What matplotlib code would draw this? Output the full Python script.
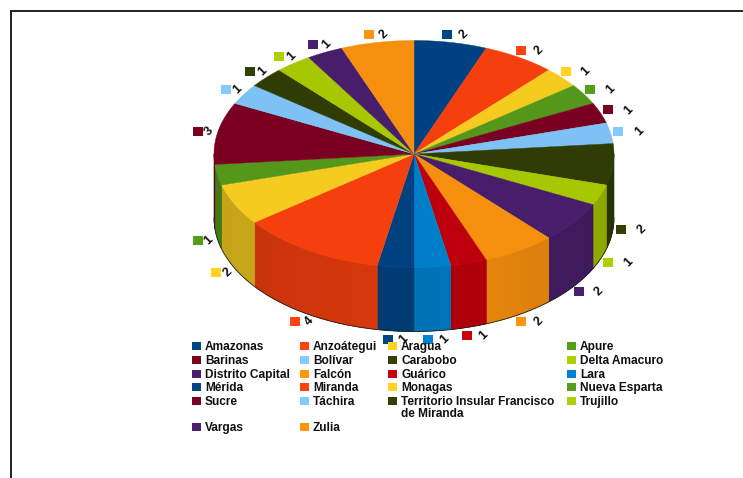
"""Gráfico de torta 3D por estado (Venezuela)."""

import numpy as np
import matplotlib
matplotlib.use("Agg")
import matplotlib.pyplot as plt
from matplotlib.colors import to_rgb
from matplotlib.patches import Polygon, Rectangle

estados = [
    "Amazonas", "Anzoátegui", "Aragua", "Apure", "Barinas", "Bolívar",
    "Carabobo", "Delta Amacuro", "Distrito Capital", "Falcón", "Guárico",
    "Lara", "Mérida", "Miranda", "Monagas", "Nueva Esparta", "Sucre",
    "Táchira", "Territorio Insular Francisco\nde Miranda", "Trujillo",
    "Vargas", "Zulia",
]
valores = [2, 2, 1, 1, 1, 1, 2, 1, 2, 2, 1, 1, 1, 4, 2, 1, 3, 1, 1, 1, 1, 2]
colores = [
    "#004586", "#ff420e", "#ffd320", "#579d1c", "#7e0021", "#83caff",
    "#314004", "#aecf00", "#4b1f6f", "#ff950e", "#c5000b", "#0084d1",
    "#004586", "#ff420e", "#ffd320", "#579d1c", "#7e0021", "#83caff",
    "#314004", "#aecf00", "#4b1f6f", "#ff950e",
]

# geometria en pixeles de la imagen
CX, CY, RX, RY, DEPTH = 414, 154, 200, 113.5, 64
LEG_X = [192, 300, 388, 567]
LEG_Y = [346, 360, 374, 387, 401, 427]


def punto(ang, rx=RX, ry=RY, dy=0):
    a = np.radians(ang)
    return CX + rx * np.sin(a), CY + dy - ry * np.cos(a)


def tono(c, f):
    return tuple(min(1, v * f) for v in to_rgb(c))


def brillo(ang):
    return 0.90 - 0.13 * abs(np.sin(np.radians((ang - 160) / 1.25)))


fig = plt.figure(figsize=(7.43, 4.78), dpi=100)
ax = fig.add_axes([0, 0, 1, 1])
ax.set_xlim(0, 743)
ax.set_ylim(478, 0)
ax.axis("off")

# marco: solo arriba e izquierda
ax.plot([743, 10.5, 10.5], [10.5, 10.5, 478], color="#222222", lw=1.4, solid_joinstyle="miter")

bordes = np.cumsum([0] + valores) * 360 / sum(valores)

# pared lateral (solo la mitad frontal)
for i, col in enumerate(colores):
    a0, a1 = max(bordes[i], 90), min(bordes[i + 1], 270)
    if a1 <= a0:
        continue
    aa = np.linspace(a0, a1, 20)
    base = tono(col, brillo((a0 + a1) / 2))
    ax.add_patch(Polygon([punto(a) for a in aa] + [punto(a, dy=DEPTH) for a in aa[::-1]],
                         closed=True, fc=base, ec=base, lw=0.4))
    n = max(2, int((a1 - a0) / 3) + 1)
    t = np.linspace(a0, a1, n)
    for j in range(n - 1):
        tr = np.linspace(t[j], t[j + 1], 4)
        pts = [punto(a) for a in tr] + [punto(a, dy=DEPTH) for a in tr[::-1]]
        ax.add_patch(Polygon(pts, closed=True, fc=tono(col, brillo(tr.mean())), ec="none"))

# cara superior
for i, col in enumerate(colores):
    aa = np.linspace(bordes[i], bordes[i + 1], 30)
    c = tono(col, 0.96)
    ax.add_patch(Polygon([(CX, CY)] + [punto(a) for a in aa], closed=True, fc=c, ec=c, lw=0.3))

# borde inferior
aa = np.linspace(90, 270, 181)
xs, ys = zip(*[punto(a, dy=DEPTH) for a in aa])
ax.plot(xs, ys, color="#222222", lw=0.6)

# etiquetas de valor
for i, v in enumerate(valores):
    m = (bordes[i] + bordes[i + 1]) / 2
    s, co = np.sin(np.radians(m)), np.cos(np.radians(m))
    x = CX - 6 + 214 * s
    y = (CY if co > 0 else CY + DEPTH) - 122 * co
    ax.add_patch(Rectangle((x - 5, y - 4.5), 10, 9, fc=colores[i], ec="none"))
    ax.text(x + 16 + 5 * s, y, str(v), rotation=45, ha="center", va="center",
            fontsize=9, fontweight="bold", family="Liberation Sans", color="#111111")

# leyenda
for i, nombre in enumerate(estados):
    fila, col = i // 4, i % 4
    x, y = LEG_X[col], LEG_Y[fila]
    ax.add_patch(Rectangle((x, y - 4), 9, 8, fc=colores[i], ec="none"))
    ax.text(x + 13, y - 5, nombre, ha="left", va="top", fontsize=8.6, fontweight="bold",
            family="Liberation Sans", color="#111111", linespacing=0.95)

fig.savefig("out.png", dpi=100)
print("saved out.png")
